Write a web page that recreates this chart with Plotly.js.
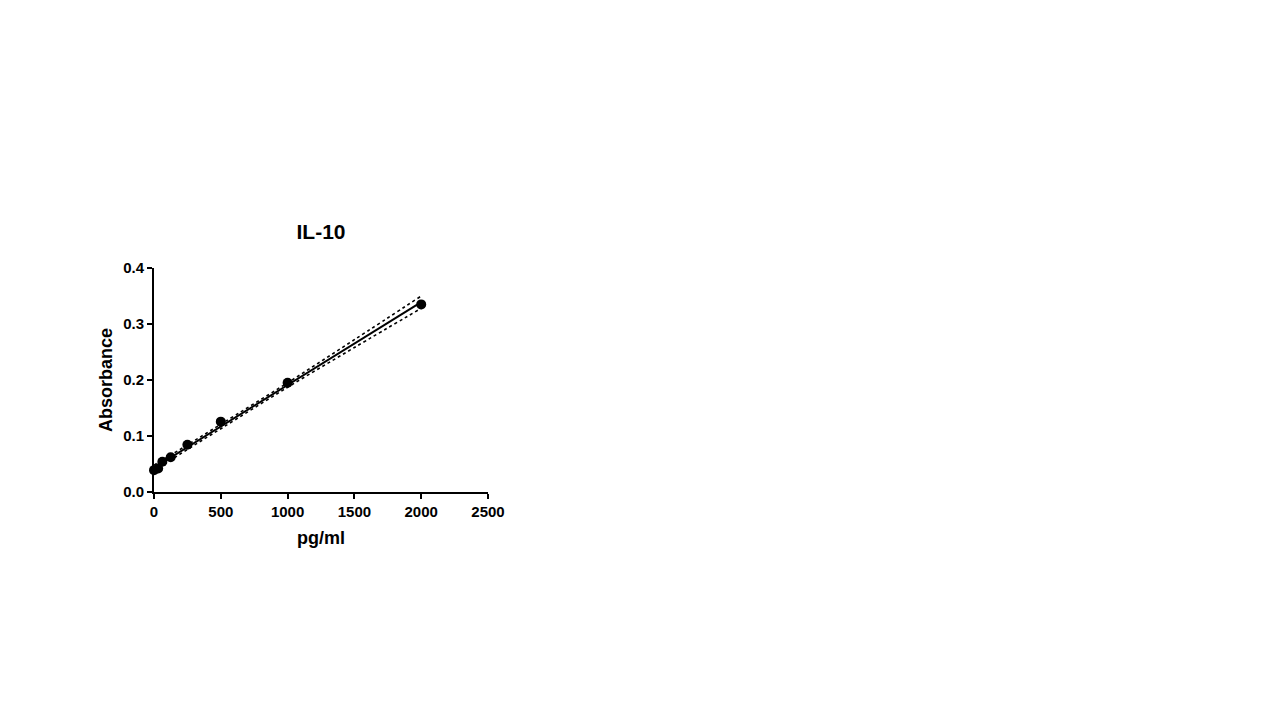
<!DOCTYPE html>
<html>
<head>
<meta charset="utf-8">
<script src="https://cdn.plot.ly/plotly-3.0.1.min.js"></script>
<style>
  html, body { margin: 0; padding: 0; background: #fff; }
  #graph { width: 1280px; height: 720px; }
</style>
</head>
<body>
<div id="graph"></div>
<script>
// IL-10 standard curve
const conc = [0, 31.25, 62.5, 125, 250, 500, 1000, 2000];
const absorb = [0.039, 0.042, 0.054, 0.062, 0.0845, 0.1256, 0.195, 0.335];

// fitted line and its dotted band
const fitX = [0, 2000];
const fitY = [0.043, 0.339];
const bandX = [0, 250, 500, 1000, 1500, 2000];
const bandUpper = [0.048, 0.084, 0.121, 0.195, 0.272, 0.350];
const bandLower = [0.038, 0.076, 0.113, 0.187, 0.258, 0.328];

const font = 'Liberation Sans, Arial, sans-serif';

var fit = {
    x: fitX, y: fitY,
    mode: 'lines', type: 'scatter',
    line: {color: '#000', width: 2},
    hoverinfo: 'skip'
};
var upper = {
    x: bandX, y: bandUpper,
    mode: 'lines', type: 'scatter',
    line: {color: '#000', width: 1.6, dash: 'dot', shape: 'spline'},
    hoverinfo: 'skip'
};
var lower = {
    x: bandX, y: bandLower,
    mode: 'lines', type: 'scatter',
    line: {color: '#000', width: 1.6, dash: 'dot', shape: 'spline'},
    hoverinfo: 'skip'
};
var points = {
    x: conc, y: absorb,
    mode: 'markers', type: 'scatter',
    marker: {color: '#000', size: 10},
    cliponaxis: false
};

const layout = {
    width: 1280,
    height: 720,
    paper_bgcolor: '#fff',
    plot_bgcolor: '#fff',
    showlegend: false,
    margin: {l: 153.5, r: 792, t: 268, b: 228, pad: 0},
    title: {
        text: 'IL-10',
        font: {family: font, size: 21, weight: 'bold', color: '#000'},
        xref: 'paper', x: 0.5, xanchor: 'center',
        yref: 'container', y: 1 - 232 / 720, yanchor: 'middle'
    },
    xaxis: {
        range: [0, 2500],
        tickvals: [0, 500, 1000, 1500, 2000, 2500],
        ticks: 'outside', ticklen: 5, tickwidth: 2, tickcolor: '#000',
        showline: true, linecolor: '#000', linewidth: 2,
        showgrid: false, zeroline: false,
        tickfont: {family: font, size: 15, weight: 'bold', color: '#000'},
        title: {
            text: 'pg/ml',
            font: {family: font, size: 18, weight: 'bold', color: '#000'},
            standoff: 12
        }
    },
    yaxis: {
        range: [0, 0.4],
        tickvals: [0, 0.1, 0.2, 0.3, 0.4],
        tickformat: '.1f',
        ticks: 'outside', ticklen: 5, tickwidth: 2, tickcolor: '#000',
        showline: true, linecolor: '#000', linewidth: 2,
        showgrid: false, zeroline: false,
        tickfont: {family: font, size: 15, weight: 'bold', color: '#000'},
        title: {
            text: 'Absorbance',
            font: {family: font, size: 18, weight: 'bold', color: '#000'},
            standoff: 6
        }
    }
};

Plotly.newPlot('graph', [upper, lower, fit, points], layout, {staticPlot: true});
</script>
</body>
</html>
